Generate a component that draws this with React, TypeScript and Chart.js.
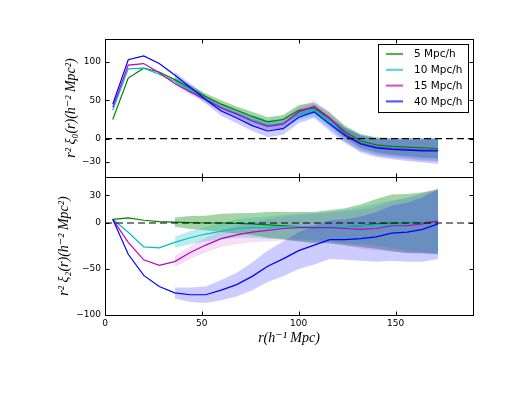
import { useEffect, useRef } from "react";
import { Chart, registerables } from "chart.js";
Chart.register(...registerables);

// separation r (h^-1 Mpc)
const rValues = [4, 12, 20, 28, 36, 44, 52, 60, 68, 76, 84, 92, 100, 108, 116, 124, 132, 140, 148, 156, 164, 172];
const bandR = [36, 44, 52, 60, 68, 76, 84, 92, 100, 108, 116, 124, 132, 140, 148, 156, 164, 172];

const seriesLabels = ["5 Mpc/h", "10 Mpc/h", "15 Mpc/h", "40 Mpc/h"];

// monopole r^2 xi_0
const xi0_5 = [25, 79, 92, 87, 77, 66, 55, 45, 37, 29, 22, 25, 37, 40, 26, 9, -3, -8, -10, -11, -12, -13];
const xi0_10 = [37, 91, 92, 84, 75, 63, 52, 41, 33, 25, 18, 20, 32, 37, 22, 5, -5, -10, -12, -13, -14, -14];
const xi0_15 = [41, 96, 98, 86, 72, 61, 51, 40, 32, 23, 16, 19, 35, 42, 27, 6, -6, -11, -13, -14, -15, -15];
const xi0_40 = [45, 103, 108, 98, 83, 67, 51, 36, 27, 17, 10, 13, 28, 35, 19, 4, -7, -12, -14, -15, -16, -16];

const err0_5 = [3, 4, 4, 5, 5, 6, 6, 6, 7, 7, 8, 8, 9, 10, 11, 12, 13, 13];
const err0_10 = [3, 4, 4, 5, 5, 6, 6, 7, 7, 8, 8, 9, 10, 11, 12, 13, 14, 15];
const err0_15 = [3, 4, 4, 5, 5, 6, 6, 7, 7, 8, 8, 9, 10, 11, 12, 13, 14, 15];
const err0_40 = [4, 5, 5, 6, 7, 7, 8, 8, 8, 8, 9, 10, 11, 12, 13, 14, 15, 17];

// quadrupole r^2 xi_2
const xi2_5 = [4, 5.5, 3, 1.5, 1, 0.5, 0, 0, -0.5, -1, -2, -3, -4, -5, -4, -4, -3, -1, 0, -0.5, 0.5, 1.5];
const xi2_10 = [4, -10, -26, -27, -21, -16, -12, -9, -6, -5, -5, -4, -4, -4, -4, -4, -3, -2, -1.5, -1, 0, 1];
const xi2_15 = [4, -21, -40, -46, -42, -32, -24, -17, -13, -10, -8, -6, -5, -5, -5, -6, -7, -6, -3, -3, -1, 2];
const xi2_40 = [4, -34, -57, -69, -76, -78, -78, -73, -67, -58, -47, -39, -30, -24, -18, -18, -17, -15, -11, -10, -7, -1];

const err2_5 = [5, 7, 8, 10, 11, 12, 14, 15, 16, 17, 18, 20, 23, 27, 31, 32, 33, 35];
const err2_10 = [6, 7, 8, 9, 10, 11, 12, 13, 14, 15, 16, 18, 20, 23, 26, 29, 32, 35];
const err2_15 = [6, 7, 8, 9, 10, 11, 12, 13, 14, 15, 17, 19, 21, 24, 27, 30, 33, 36];
const err2_40 = [6, 8, 9, 11, 13, 15, 17, 19, 20, 21, 21, 22, 24, 27, 30, 32, 35, 38];

const xTicks = [0, 50, 100, 150];
const topTicks = [-30, 0, 50, 100];
const botTicks = [-100, -50, 0, 30];

const lineColors = ["#008000", "#00bfbf", "#bf00bf", "#0000ff"];
const bandColors = [
  "rgba(0,128,0,0.35)",
  "rgba(0,191,191,0.27)",
  "rgba(191,0,191,0.13)",
  "rgba(0,0,255,0.2)",
];

const minus = (v: number) => String(v).replace("-", "\u2212");

function buildDatasets() {
  const ds: any[] = [];
  const panels = [
    { axis: "yTop", lines: [xi0_5, xi0_10, xi0_15, xi0_40], errs: [err0_5, err0_10, err0_15, err0_40] },
    { axis: "yBot", lines: [xi2_5, xi2_10, xi2_15, xi2_40], errs: [err2_5, err2_10, err2_15, err2_40] },
  ];
  for (const p of panels) {
    p.lines.forEach((ys, s) => {
      const e = p.errs[s];
      const at = (x: number) => ys[rValues.indexOf(x)];
      // higher order is drawn first: green band first, blue band last (on top)
      const bandOrder = 20 - s;
      ds.push({
        type: "line",
        label: "",
        data: bandR.map((x, i) => ({ x, y: at(x) - e[i] })),
        yAxisID: p.axis,
        borderWidth: 0,
        pointRadius: 0,
        fill: false,
        order: bandOrder,
      });
      ds.push({
        type: "line",
        label: "",
        data: bandR.map((x, i) => ({ x, y: at(x) + e[i] })),
        yAxisID: p.axis,
        borderWidth: 0,
        pointRadius: 0,
        backgroundColor: bandColors[s],
        fill: "-1",
        order: bandOrder,
      });
    });
    p.lines.forEach((ys, s) => {
      ds.push({
        type: "line",
        label: seriesLabels[s],
        data: rValues.map((x, i) => ({ x, y: ys[i] })),
        yAxisID: p.axis,
        borderColor: lineColors[s],
        borderWidth: 1.2,
        pointRadius: 0,
        fill: false,
        order: 10 - s,
      });
    });
    ds.push({
      type: "line",
      label: "",
      data: [
        { x: 0, y: 0 },
        { x: 190, y: 0 },
      ],
      yAxisID: p.axis,
      borderColor: "#000",
      borderWidth: 1.2,
      borderDash: [7, 4],
      pointRadius: 0,
      fill: false,
      order: 1,
    });
  }
  return ds;
}

const framePlugin = {
  id: "frameTicksLegend",
  afterDraw(chart: any) {
    const { ctx, chartArea, scales } = chart;
    const xS = scales.x;
    ctx.save();
    ctx.strokeStyle = "#000";
    ctx.lineWidth = 1;
    const l = Math.round(chartArea.left) + 0.5;
    const r = Math.round(chartArea.right) + 0.5;
    const pairs: [string, number[]][] = [
      ["yTop", topTicks],
      ["yBot", botTicks],
    ];
    for (const [id, tv] of pairs) {
      const s = scales[id];
      const t = Math.round(s.top) + 0.5;
      const b = Math.round(s.bottom) + 0.5;
      ctx.strokeRect(l, t, r - l, b - t);
      ctx.beginPath();
      for (const v of xTicks) {
        const px = Math.round(xS.getPixelForValue(v)) + 0.5;
        ctx.moveTo(px, t);
        ctx.lineTo(px, t + 4);
        ctx.moveTo(px, b);
        ctx.lineTo(px, b - 4);
      }
      for (const v of tv) {
        const py = Math.round(s.getPixelForValue(v)) + 0.5;
        ctx.moveTo(l, py);
        ctx.lineTo(l + 4, py);
        ctx.moveTo(r, py);
        ctx.lineTo(r - 4, py);
      }
      ctx.stroke();
    }
    // legend
    const lx = 378.5, ly = 44.5, lw = 90, lh = 68;
    ctx.fillStyle = "#fff";
    ctx.fillRect(lx, ly, lw, lh);
    ctx.strokeStyle = "#000";
    ctx.strokeRect(lx, ly, lw, lh);
    ctx.font = "10.5px 'DejaVu Sans'";
    ctx.textBaseline = "middle";
    ctx.textAlign = "left";
    seriesLabels.forEach((lab, i) => {
      const y = 54 + i * 15.8;
      ctx.globalAlpha = 0.65;
      ctx.strokeStyle = lineColors[i];
      ctx.lineWidth = 2.2;
      ctx.beginPath();
      ctx.moveTo(386, y);
      ctx.lineTo(403, y);
      ctx.stroke();
      ctx.globalAlpha = 1;
      ctx.fillStyle = "#000";
      ctx.fillText(lab, 414, y + 0.5);
    });
    ctx.restore();
  },
};

export default function App() {
  const ref = useRef<HTMLCanvasElement>(null);
  useEffect(() => {
    if (!ref.current) return;
    const tickFont = { family: "'DejaVu Sans'", size: 9 };
    const titleFont = { family: "'Liberation Serif', 'DejaVu Serif', serif", size: 14, style: "italic" as const };
    const noGrid = { display: false, drawTicks: false, tickLength: 0 };
    const chart = new Chart(ref.current, {
      type: "line",
      data: { datasets: buildDatasets() },
      plugins: [framePlugin],
      options: {
        animation: false,
        responsive: false,
        devicePixelRatio: 1,
        layout: { padding: { left: 45, right: 53, top: 39, bottom: 45 } },
        plugins: { legend: { display: false }, tooltip: { enabled: false } },
        scales: {
          x: {
            type: "linear",
            min: 0,
            max: 190,
            grid: noGrid,
            border: { display: false },
            afterBuildTicks: (s: any) => {
              s.ticks = xTicks.map((v) => ({ value: v }));
            },
            afterFit: (s: any) => {
              s.height = 35;
            },
            ticks: { color: "#000", font: tickFont, padding: 3, maxRotation: 0, callback: (v: any) => minus(v) },
            title: { display: true, text: "r(h\u207B\u00B9 Mpc)", color: "#000", font: titleFont, padding: { top: 0, bottom: 3 } },
          },
          yTop: {
            type: "linear",
            position: "left",
            stack: "panels",
            stackWeight: 1,
            weight: 2,
            min: -50,
            max: 130,
            grid: noGrid,
            border: { display: false },
            afterBuildTicks: (s: any) => {
              s.ticks = topTicks.map((v) => ({ value: v }));
            },
            afterFit: (s: any) => {
              s.width = 60;
            },
            ticks: { color: "#000", font: tickFont, padding: 4, callback: (v: any) => minus(v) },
            title: {
              display: true,
              text: "r\u00B2 \u03BE\u2080(r)(h\u207B\u00B2 Mpc\u00B2)",
              color: "#000",
              font: titleFont,
              padding: { top: 18, bottom: 0 },
            },
          },
          yBot: {
            type: "linear",
            position: "left",
            stack: "panels",
            stackWeight: 1,
            weight: 1,
            min: -100,
            max: 50,
            grid: noGrid,
            border: { display: false },
            afterBuildTicks: (s: any) => {
              s.ticks = botTicks.map((v) => ({ value: v }));
            },
            afterFit: (s: any) => {
              s.width = 60;
            },
            ticks: { color: "#000", font: tickFont, padding: 4, callback: (v: any) => minus(v) },
            title: {
              display: true,
              text: "r\u00B2 \u03BE\u2082(r)(h\u207B\u00B2 Mpc\u00B2)",
              color: "#000",
              font: titleFont,
              padding: { top: 11, bottom: 0 },
            },
          },
        },
      } as any,
    });
    return () => chart.destroy();
  }, []);
  return (
    <div style={{ position: "fixed", left: 0, top: 0, width: 526, height: 395, background: "#fff" }}>
      <canvas ref={ref} width={526} height={395} style={{ width: 526, height: 395, display: "block" }} />
    </div>
  );
}
